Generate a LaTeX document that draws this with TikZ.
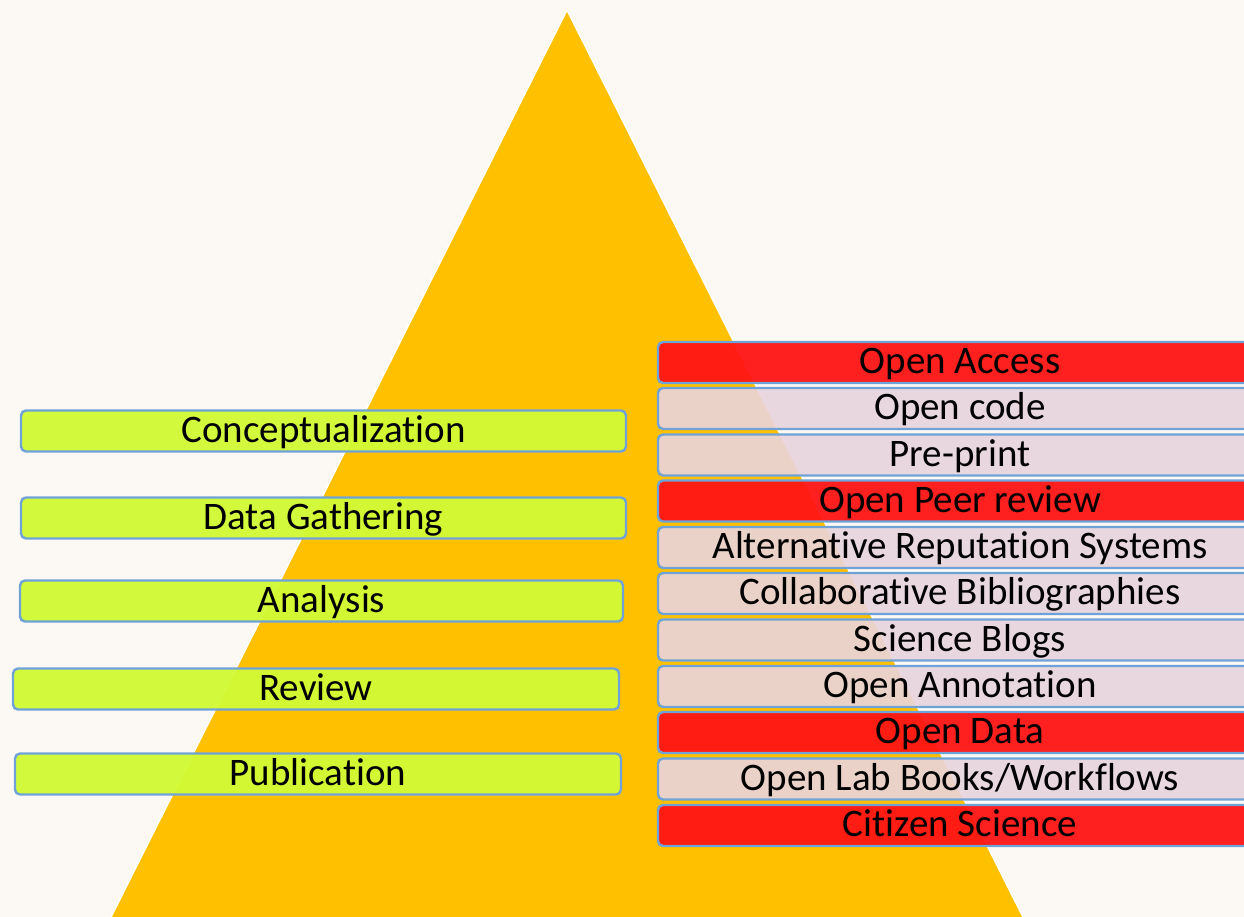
\documentclass[tikz,border=0pt]{standalone}
\usepackage{fontspec}
\setmainfont[Ligatures=NoCommon]{Carlito}
\definecolor{bgc}{HTML}{FCF9F4}
\definecolor{tri}{HTML}{FFC000}
\definecolor{boxblue}{HTML}{6FA3D8}
\definecolor{limey}{HTML}{D2FA36}
\definecolor{redbox}{HTML}{FF1414}
\definecolor{pinkbox}{HTML}{E8D4DE}
\begin{document}
\begin{tikzpicture}[x=1pt,y=-1pt,
  basebox/.style={draw=boxblue, line width=2.4pt, rounded corners=5pt, text opacity=1,
    minimum height=41pt, inner sep=0pt, text height=27pt, text depth=5pt,
    font=\fontsize{39}{44}\selectfont, text=black},
  leftbox/.style={basebox, fill=limey, fill opacity=0.96, minimum width=605pt},
  redbx/.style={basebox, fill=redbox, fill opacity=0.95, minimum width=604pt},
  pinkbx/.style={basebox, fill=pinkbox, fill opacity=0.9, minimum width=604pt}]
\fill[bgc] (0,0) rectangle (1244,917);
\useasboundingbox (0,0) rectangle (1244,917);
\filldraw[fill=tri, draw=white, line width=1.5pt] (567,10) -- (110,919) -- (1024,919) -- cycle;
% left boxes
\node[leftbox] (concept) at (323.5,431) {Conceptualization};
\node[leftbox] (gather) at (323.5,518) {Data Gathering};
\node[leftbox, minimum width=603pt] (analysis) at (321.5,601) {Analysis};
\node[leftbox, minimum width=606pt] (review) at (316,689) {Review};
\node[leftbox, minimum width=606pt] (pub) at (318,774) {Publication};
% right boxes
\node[redbx] (oa) at (960,362.5) {Open Access};
\node[pinkbx] (oc) at (960,408.5) {Open code};
\node[pinkbx] (pp) at (960,455) {Pre-print};
\node[redbx] (opr) at (960,501) {Open Peer review};
\node[pinkbx] (ars) at (960,547.5) {Alternative Reputation Systems};
\node[pinkbx] (cb) at (960,593.5) {Collaborative Bibliographies};
\node[pinkbx] (sb) at (960,640) {Science Blogs};
\node[pinkbx] (oan) at (960,686.5) {Open Annotation};
\node[redbx] (od) at (960,732.5) {Open Data};
\node[pinkbx] (olb) at (960,779) {Open Lab Books/Workflows};
\node[redbx] (cs) at (960,825.5) {Citizen Science};
\end{tikzpicture}
\end{document}
